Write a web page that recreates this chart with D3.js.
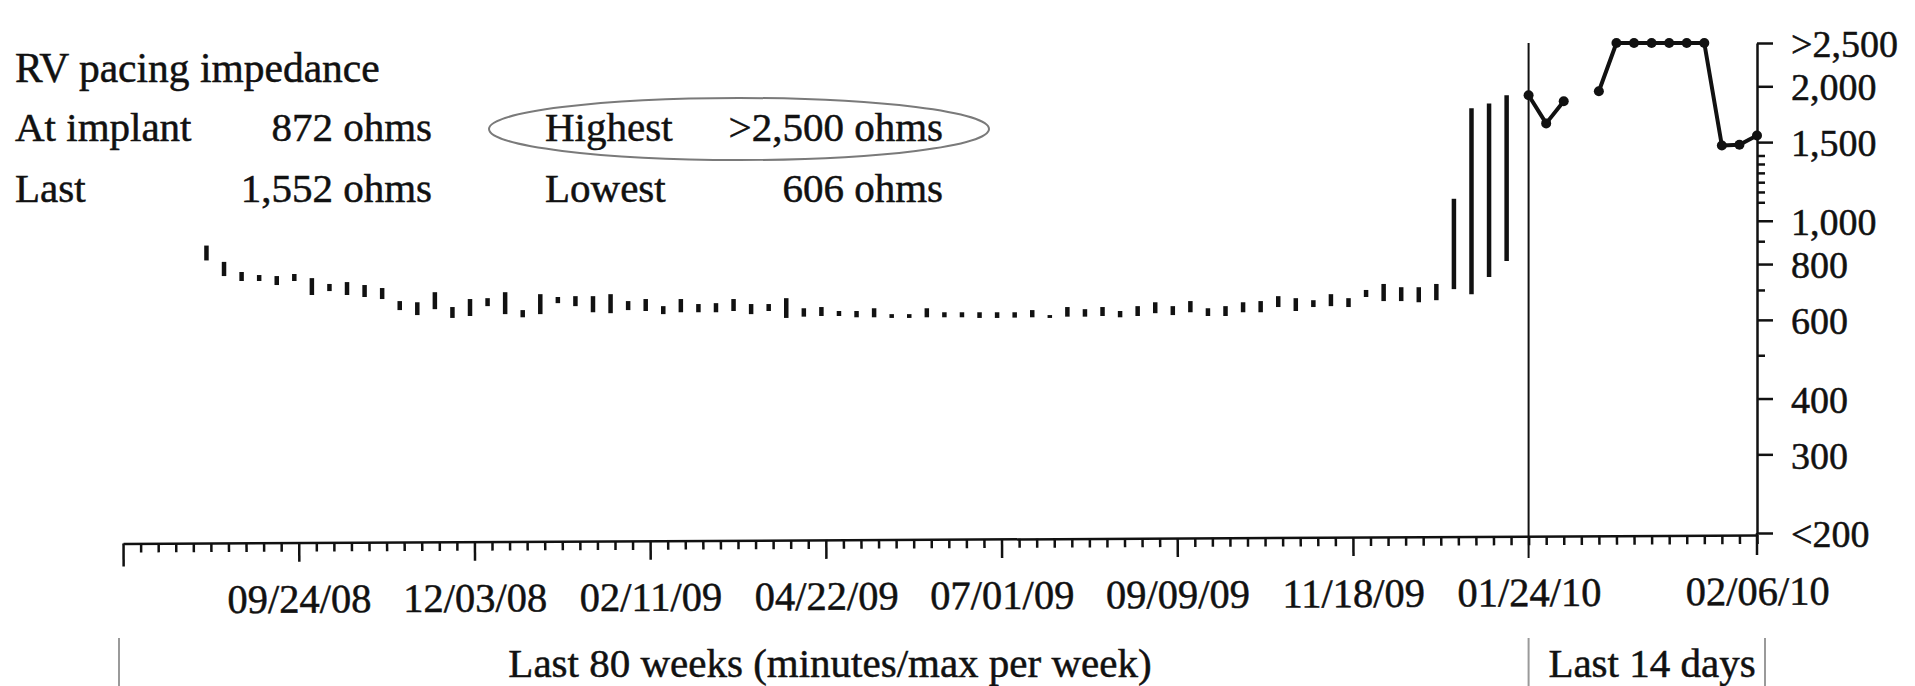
<!DOCTYPE html>
<html>
<head>
<meta charset="utf-8">
<script src="https://cdn.jsdelivr.net/npm/d3@7/dist/d3.min.js"></script>
<style>
body { margin: 0; background: #fff; }
svg text { font-family: "Liberation Serif", "Times New Roman", serif; fill: #111; stroke: #111; stroke-width: 0.5; }
</style>
</head>
<body>
<svg width="1915" height="686"></svg>
<script>
// weekly min / max impedance (ohms) - first bar is week 5 of the 80 week window
var firstWeek = 5;
var weekMin = [815, 752, 733, 733, 718, 733, 682, 696, 682, 675,
    668, 631, 615, 634, 606, 612, 644, 618, 608, 618,
    654, 644, 624, 621, 631, 628, 618, 624, 624, 624,
    628, 618, 628, 606, 610, 612, 612, 608, 608, 606,
    606, 608, 608, 608, 606, 606, 607, 608, 606, 610,
    610, 612, 608, 612, 621, 615, 624, 612, 612, 624,
    624, 641, 628, 641, 644, 641, 675, 661, 661, 657,
    664, 703, 685, 748, 813];
var weekMax = [880, 809, 768, 756, 752, 760, 744, 722, 729, 718,
    707, 661, 657, 692, 641, 668, 671, 692, 631, 685,
    675, 678, 678, 685, 661, 668, 644, 668, 651, 654,
    668, 651, 651, 671, 637, 641, 628, 628, 637, 618,
    618, 637, 624, 624, 624, 624, 624, 631, 615, 641,
    634, 641, 628, 644, 657, 644, 661, 637, 644, 657,
    661, 678, 671, 664, 685, 671, 700, 722, 710, 710,
    722, 1120, 1785, 1831, 1909];

// last 14 days (daily value, null = no reading)
var dayValues = [1910, 1652, 1851, null, 1949, 2500, 2500, 2500, 2500, 2500, 2500, 1474, 1480, 1552];

var weekTickSlots = [10, 20, 30, 40, 50, 60, 70, 80, 93];
var weekTickLabels = ["09/24/08", "12/03/08", "02/11/09", "04/22/09", "07/01/09", "09/09/09", "11/18/09", "01/24/10", "02/06/10"];

var yTicks = [200, 300, 400, 600, 800, 1000, 1500, 2000, 2500];
var yTickLabels = ["<200", "300", "400", "600", "800", "1,000", "1,500", "2,000", ">2,500"];
var yMinorTicks = [500, 700, 900, 1100, 1160, 1220, 1280, 1340, 1400];

var summaryNames = ["At implant", "Last", "Highest", "Lowest"];
var summaryValues = ["872 ohms", "1,552 ohms", ">2,500 ohms", "606 ohms"];

var svg = d3.select("svg");

// 80 weekly slots then 13 daily slots, same pitch
var x = d3.scaleLinear().domain([0, 93]).range([123, 1757]);
var y = d3.scaleLog().domain([200, 2500]).range([533, 43]);

// header text
svg.append("text").attr("x", 15).attr("y", 82).attr("font-size", 41.5).text("RV pacing impedance");

var rowY = [141, 202, 141, 202];
var nameX = [15, 15, 545, 545];
var valueX = [432, 432, 943, 943];
summaryNames.forEach(function(n, i) {
    svg.append("text").attr("x", nameX[i]).attr("y", rowY[i]).attr("font-size", 41).text(n);
    svg.append("text").attr("x", valueX[i]).attr("y", rowY[i]).attr("font-size", 41)
        .attr("text-anchor", "end").text(summaryValues[i]);
});

svg.append("ellipse")
    .attr("cx", 739).attr("cy", 129)
    .attr("rx", 250).attr("ry", 31)
    .attr("fill", "none")
    .attr("stroke", "#7a7a7a")
    .attr("stroke-width", 2);

// x axis
var labelAt = {};
weekTickSlots.forEach(function(s, i) { labelAt[s] = weekTickLabels[i]; });

var gx = svg.append("g")
    .attr("transform", "translate(0,535) rotate(-0.3 1757 0)")
    .call(d3.axisBottom(x)
        .tickValues(d3.range(0, 94))
        .tickSize(9)
        .tickSizeOuter(0)
        .tickFormat(function(d) { return labelAt[d] || ""; }));

gx.select(".domain").attr("stroke", "#111").attr("stroke-width", 2.5);
gx.selectAll(".tick line")
    .attr("stroke", "#111")
    .attr("stroke-width", 2.5)
    .attr("y2", function(d) {
        if (d === 0) return 23;
        if (d % 10 === 0 && d < 80) return 19;
        return 9;
    });
gx.selectAll(".tick text")
    .attr("font-family", "Liberation Serif")
    .attr("font-size", 40.5)
    .attr("fill", "#111")
    .attr("y", 70)
    .attr("dy", 0);

// divider between weekly and daily data
svg.append("line")
    .attr("x1", x(80)).attr("x2", x(80))
    .attr("y1", y(2500)).attr("y2", 558)
    .attr("stroke", "#111").attr("stroke-width", 2);

// right axis
var gy = svg.append("g")
    .attr("transform", "translate(" + x(93) + ",0)")
    .call(d3.axisRight(y)
        .tickValues(yTicks)
        .tickSize(16)
        .tickSizeOuter(0)
        .tickFormat(function(d, i) { return yTickLabels[i]; }));

gy.select(".domain").attr("stroke", "#111").attr("stroke-width", 2.5);
gy.selectAll(".tick line").attr("stroke", "#111").attr("stroke-width", 2.5);
gy.selectAll(".tick text")
    .attr("font-family", "Liberation Serif")
    .attr("font-size", 38)
    .attr("fill", "#111")
    .attr("x", 34)
    .attr("dy", "0.36em");

gy.append("line")
    .attr("x1", 0).attr("x2", 0)
    .attr("y1", y(200)).attr("y2", 555)
    .attr("stroke", "#111").attr("stroke-width", 2.5);

var gyMinor = svg.append("g")
    .attr("transform", "translate(" + x(93) + ",0)")
    .call(d3.axisRight(y).tickValues(yMinorTicks).tickSize(8).tickFormat(""));
gyMinor.select(".domain").remove();
gyMinor.selectAll(".tick line").attr("stroke", "#111").attr("stroke-width", 2.5);

// weekly min/max bars
svg.append("g")
    .selectAll("line")
    .data(weekMin)
    .enter().append("line")
    .attr("x1", function(d, i) { return x(firstWeek + i - 0.25); })
    .attr("x2", function(d, i) { return x(firstWeek + i - 0.25); })
    .attr("y1", function(d) { return y(d); })
    .attr("y2", function(d, i) { return y(weekMax[i]); })
    .attr("stroke", "#111")
    .attr("stroke-width", 4.5);

// daily line
var line = d3.line()
    .defined(function(d) { return d != null; })
    .x(function(d, i) { return x(80 + i); })
    .y(function(d) { return y(d); });

svg.append("path")
    .datum(dayValues)
    .attr("d", line)
    .attr("fill", "none")
    .attr("stroke", "#111")
    .attr("stroke-width", 4)
    .attr("stroke-linejoin", "round");

svg.append("g")
    .selectAll("circle")
    .data(dayValues.map(function(v, i) { return { v: v, i: i }; }).filter(function(d) { return d.v != null; }))
    .enter().append("circle")
    .attr("cx", function(d) { return x(80 + d.i); })
    .attr("cy", function(d) { return y(d.v); })
    .attr("r", 5)
    .attr("fill", "#111");

// period captions with grey brackets
[x(0) - 4, x(80), x(93) + 8].forEach(function(bx) {
    svg.append("line")
        .attr("x1", bx).attr("x2", bx)
        .attr("y1", 638).attr("y2", 686)
        .attr("stroke", "#9a9a9a").attr("stroke-width", 2);
});

svg.append("text").attr("x", 830).attr("y", 677).attr("font-size", 41)
    .attr("text-anchor", "middle").text("Last 80 weeks (minutes/max per week)");
svg.append("text").attr("x", 1652).attr("y", 677).attr("font-size", 41)
    .attr("text-anchor", "middle").text("Last 14 days");
</script>
</body>
</html>
